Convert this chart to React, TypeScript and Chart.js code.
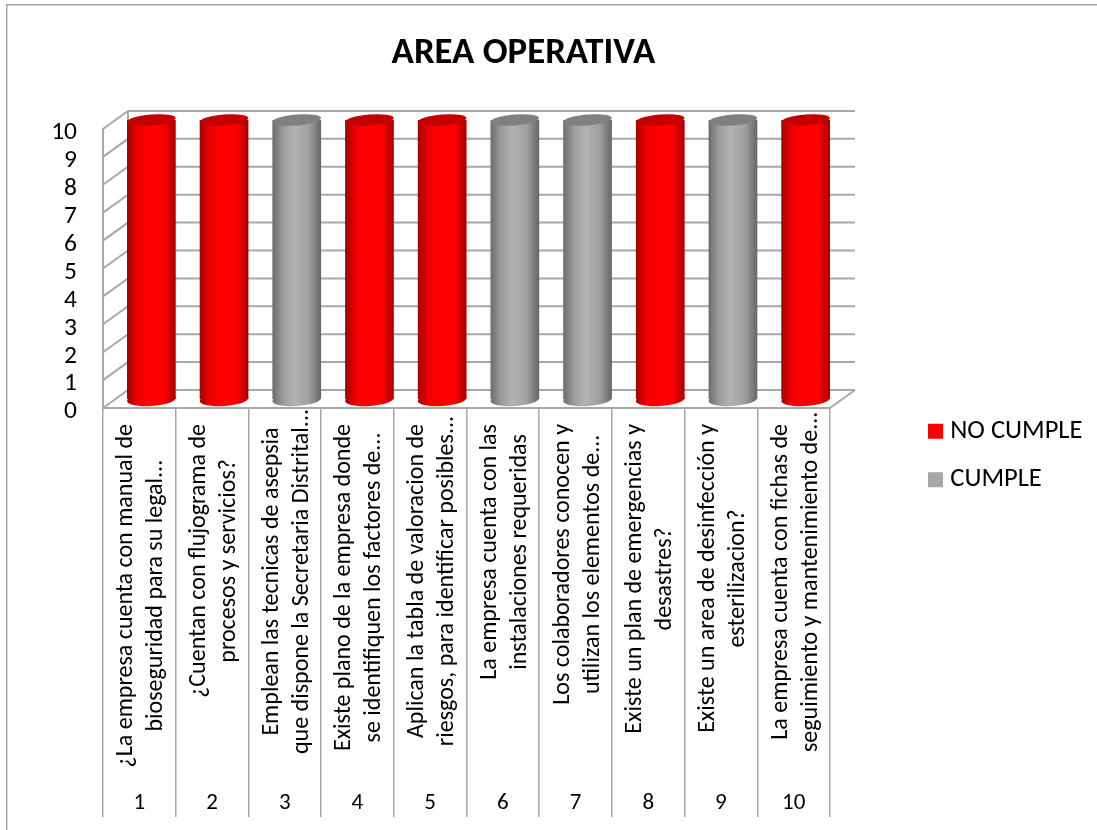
import React, { useEffect, useRef } from "react";
import { Chart, registerables } from "chart.js";

Chart.register(...registerables);

const categories = ["1", "2", "3", "4", "5", "6", "7", "8", "9", "10"];
const questionLines = [
  ["¿La empresa cuenta con manual de", "bioseguridad para su legal..."],
  ["¿Cuentan con flujograma de", "procesos y servicios?"],
  ["Emplean las tecnicas de asepsia", "que dispone la Secretaria Distrital..."],
  ["Existe plano de la empresa donde", "se identifiquen los factores de..."],
  ["Aplican la tabla de valoracion de", "riesgos, para identificar posibles..."],
  ["La empresa cuenta con las", "instalaciones requeridas"],
  ["Los colaboradores conocen y", "utilizan los elementos de..."],
  ["Existe un plan de emergencias y", "desastres?"],
  ["Existe un area de desinfección y", "esterilizacion?"],
  ["La empresa cuenta con fichas de", "seguimiento y mantenimiento de..."],
];
const noCumple = [10, 10, 0, 10, 10, 0, 0, 10, 0, 10];
const cumple = [0, 0, 10, 0, 0, 10, 10, 0, 10, 0];
const seriesNames = ["NO CUMPLE", "CUMPLE"];
const yTicks = 10;

const FONT = "Carlito, Lato, sans-serif";
const GRID = "#a8a8a8";
const DX = 12;
const DY = -9;
const WALL_DX = 25;
const WALL_DY = -18;
const BAR_PCT = 0.67;

const palettes = [
  { legend: "#ff0000", top: "#c40000", stops: ["#a80000", "#f00000", "#ff0000", "#ff0000", "#a00000"] },
  { legend: "#a6a6a6", top: "#808080", stops: ["#6c6c6c", "#9c9c9c", "#b2b2b2", "#a0a0a0", "#646464"] },
];
const stopAt = [0, 0.22, 0.45, 0.75, 1];

function barGradient(ctx: CanvasRenderingContext2D, x: number, half: number, pal: any) {
  const g = ctx.createLinearGradient(x - half, 0, x + half, 0);
  pal.stops.forEach((c: string, i: number) => g.addColorStop(stopAt[i], c));
  return g;
}

function barFill(idx: number) {
  return (c: any) => {
    const xs = c.chart.scales.x;
    if (!xs || c.dataIndex === undefined || !xs.width) return palettes[idx].legend;
    const half = ((xs.width / categories.length) * BAR_PCT) / 2;
    return barGradient(c.chart.ctx, xs.getPixelForValue(c.dataIndex), half, palettes[idx]);
  };
}

const cylinderPlugin = {
  id: "cylinder",
  beforeDatasetsDraw(chart: any) {
    const { ctx, chartArea: a, scales } = chart;
    ctx.save();
    ctx.strokeStyle = GRID;
    ctx.lineWidth = 2;
    ctx.beginPath();
    for (let v = 0; v <= yTicks; v++) {
      const y = scales.y.getPixelForValue(v);
      ctx.moveTo(a.left, y);
      ctx.lineTo(a.left + WALL_DX, y + WALL_DY);
      ctx.lineTo(a.right + WALL_DX, y + WALL_DY);
    }
    const y0 = scales.y.getPixelForValue(0);
    const y10 = scales.y.getPixelForValue(yTicks);
    ctx.moveTo(a.left + WALL_DX, y0 + WALL_DY);
    ctx.lineTo(a.left + WALL_DX, y10 + WALL_DY);
    ctx.moveTo(a.right + WALL_DX, y0 + WALL_DY);
    ctx.lineTo(a.right, y0);
    ctx.stroke();
    ctx.restore();
  },
  beforeDatasetDraw(chart: any, args: any) {
    const { ctx } = chart;
    const pal = palettes[args.index];
    ctx.save();
    ctx.translate(DX, DY);
    args.meta.data.forEach((bar: any) => {
      if (Math.abs(bar.base - bar.y) < 1) return;
      ctx.beginPath();
      ctx.ellipse(bar.x, bar.base + 0.5, bar.width / 2, 6.5, -0.07, 0, Math.PI * 2);
      ctx.fillStyle = barGradient(ctx, bar.x, bar.width / 2, pal);
      ctx.fill();
    });
  },
  afterDatasetDraw(chart: any, args: any) {
    const { ctx } = chart;
    const pal = palettes[args.index];
    args.meta.data.forEach((bar: any) => {
      if (Math.abs(bar.base - bar.y) < 1) return;
      ctx.beginPath();
      ctx.ellipse(bar.x, bar.y, bar.width / 2, 5.5, -0.08, 0, Math.PI * 2);
      ctx.fillStyle = pal.top;
      ctx.fill();
    });
    ctx.restore();
  },
  afterDraw(chart: any) {
    const { ctx, scales } = chart;
    const xs = scales.x;
    ctx.save();
    // chart frame
    ctx.strokeStyle = GRID;
    ctx.lineWidth = 1.5;
    ctx.beginPath();
    ctx.moveTo(6.75, 830);
    ctx.lineTo(6.75, 4.75);
    ctx.lineTo(1097, 4.75);
    ctx.stroke();
    // wrapped category texts
    ctx.fillStyle = "#000";
    ctx.font = `24px ${FONT}`;
    ctx.textBaseline = "alphabetic";
    ctx.textAlign = "center";
    questionLines.forEach((lines, i) => {
      const widths = lines.map((l) => ctx.measureText(l).width - (l.endsWith("...") ? 30 : 0));
      const center = 424 + Math.max(...widths) / 2;
      const cx = xs.getPixelForValue(i);
      lines.forEach((line, k) => {
        ctx.save();
        ctx.translate(cx - 7 + k * 30, center);
        ctx.rotate(-Math.PI / 2);
        ctx.fillText(line, 0, 0);
        ctx.restore();
      });
    });
    ctx.restore();
  },
  afterLayout(chart: any) {
    const t = chart.titleBlock;
    t.left = 0;
    t.right = 1047;
    const l = chart.legend;
    l.left = 912;
    l.right = 1097;
    l.top = 396;
    l.bottom = 700;
  },
};

export default function App() {
  const ref = useRef<HTMLCanvasElement>(null);
  useEffect(() => {
    const chart = new Chart(ref.current as HTMLCanvasElement, {
      type: "bar",
      data: {
        labels: categories,
        datasets: [
          { label: seriesNames[0], data: noCumple, backgroundColor: barFill(0), stack: "s" },
          { label: seriesNames[1], data: cumple, backgroundColor: barFill(1), stack: "s" },
        ],
      },
      plugins: [cylinderPlugin],
      options: {
        responsive: false,
        animation: false,
        layout: { padding: { left: 0, right: 267, top: 0, bottom: 0 } },
        datasets: { bar: { categoryPercentage: 1, barPercentage: BAR_PCT, borderWidth: 0, clip: false } },
        scales: {
          x: {
            stacked: true,
            afterFit: (s: any) => { s.height = 422; },
            grid: { display: true, offset: true, drawOnChartArea: false, drawTicks: true, tickLength: 409, color: GRID, lineWidth: 1.5 },
            border: { display: true, color: GRID, width: 2 },
            ticks: { autoSkip: false, maxRotation: 0, minRotation: 0, padding: -28, color: "#000", font: { size: 23, family: FONT } },
          },
          y: {
            stacked: true,
            min: 0,
            max: yTicks,
            afterFit: (s: any) => { s.width = 103; },
            grid: { display: false, drawTicks: false },
            border: { display: true, color: GRID, width: 2 },
            ticks: { autoSkip: false, stepSize: 1, padding: 26, labelOffset: 4, color: "#000", font: { size: 25.5, family: FONT } },
          },
        },
        plugins: {
          tooltip: { enabled: false },
          title: {
            display: true,
            text: "AREA OPERATIVA",
            color: "#000",
            font: { size: 36.8, weight: "bold", family: FONT, lineHeight: 1.2 },
            padding: { top: 31.5, bottom: 53.3 },
          },
          legend: {
            position: "chartArea",
            align: "start",
            labels: {
              boxWidth: 3,
              boxHeight: 3,
              padding: 22,
              color: "#000",
              font: { size: 26.5, family: FONT },
              generateLabels: () =>
                seriesNames.map((text, i) => ({
                  text,
                  fillStyle: palettes[i].legend,
                  strokeStyle: palettes[i].legend,
                  lineWidth: 12,
                  datasetIndex: i,
                  hidden: false,
                })),
            },
          },
        },
      } as any,
    });
    return () => chart.destroy();
  }, []);
  return (
    <div style={{ position: "absolute", left: 0, top: 0, width: 1097, height: 830, background: "#fff" }}>
      <canvas ref={ref} width={1097} height={830} style={{ display: "block" }} />
    </div>
  );
}
